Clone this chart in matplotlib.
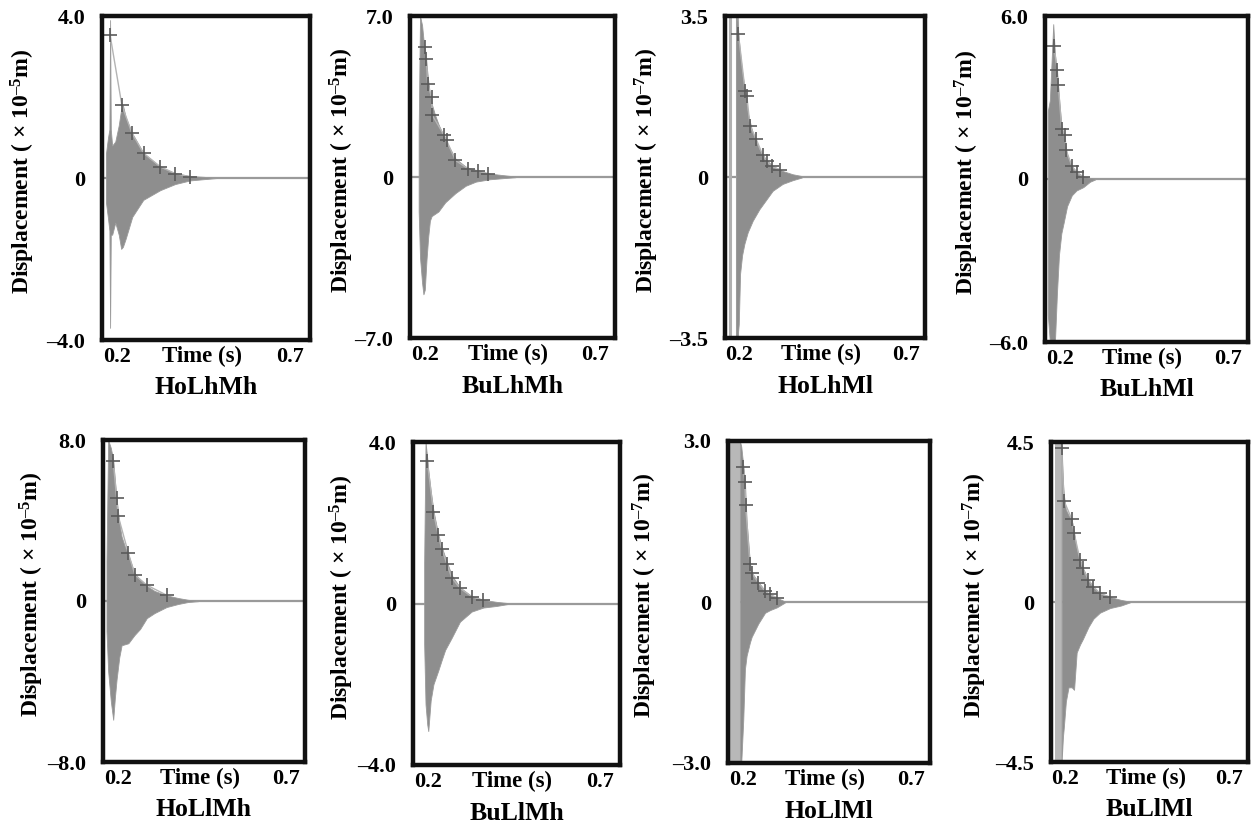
import matplotlib
matplotlib.use("Agg")
import matplotlib.pyplot as plt

plt.rcParams['font.family'] = ['Liberation Serif', 'DejaVu Serif']
plt.rcParams['font.weight'] = 'bold'
plt.rcParams['mathtext.fontset'] = 'custom'
plt.rcParams['mathtext.rm'] = 'Liberation Serif:bold'
plt.rcParams['mathtext.it'] = 'Liberation Serif:bold'
plt.rcParams['mathtext.bf'] = 'Liberation Serif:bold'

# ---------------- data ----------------
names = ["HoLhMh", "BuLhMh", "HoLhMl", "BuLhMl", "HoLlMh", "BuLlMh", "HoLlMl", "BuLlMl"]
ymax = [4.0, 7.0, 3.5, 6.0, 8.0, 4.0, 3.0, 4.5]
exponents = ["5", "5", "7", "7", "5", "5", "7", "7"]
x_ticks = [0.2, 0.7]
x_tick_labels = ["0.2", "0.7"]

# envelope of the oscillating response (time, upper, lower)
t1 = [0.168, 0.174, 0.178, 0.180, 0.182, 0.186, 0.195, 0.205, 0.212, 0.217, 0.225, 0.244, 0.276, 0.325, 0.368, 0.411, 0.450, 0.490]
up1 = [0.6, 1.0, 1.2, 3.9, 1.2, 0.8, 0.9, 1.3, 1.7, 1.8, 1.5, 1.1, 0.62, 0.27, 0.12, 0.05, 0.03, 0.0]
lo1 = [-0.6, -1.0, -1.3, -3.7, -1.4, -1.4, -1.1, -1.4, -1.75, -1.7, -1.5, -0.96, -0.54, -0.30, -0.15, -0.06, -0.03, 0.0]

t2 = [0.182, 0.186, 0.192, 0.196, 0.200, 0.205, 0.210, 0.215, 0.220, 0.230, 0.240, 0.260, 0.290, 0.320, 0.350, 0.390, 0.430, 0.466]
up2 = [2.0, 7.0, 6.6, 6.0, 5.5, 4.9, 4.2, 3.6, 3.2, 2.7, 2.3, 1.6, 0.8, 0.45, 0.28, 0.15, 0.08, 0.02]
lo2 = [-1.5, -3.5, -4.6, -5.1, -4.9, -3.6, -2.6, -1.9, -1.7, -1.6, -1.5, -1.1, -0.7, -0.38, -0.2, -0.1, -0.05, -0.01]

t3 = [0.190, 0.194, 0.198, 0.202, 0.208, 0.215, 0.225, 0.240, 0.260, 0.280, 0.300, 0.330, 0.360, 0.388]
up3 = [3.5, 3.4, 3.0, 2.7, 2.3, 1.95, 1.4, 0.95, 0.6, 0.38, 0.24, 0.13, 0.06, 0.02]
lo3 = [-3.5, -3.5, -3.2, -2.1, -1.7, -1.45, -1.2, -0.95, -0.7, -0.5, -0.3, -0.15, -0.07, -0.01]

t4 = [0.165, 0.171, 0.181, 0.186, 0.192, 0.198, 0.205, 0.212, 0.222, 0.236, 0.250, 0.270, 0.290, 0.305]
up4 = [2.5, 2.9, 5.7, 4.6, 3.9, 3.0, 2.0, 1.6, 0.9, 0.48, 0.26, 0.1, 0.04, 0.01]
lo4 = [-5.0, -6.0, -6.0, -6.0, -4.2, -2.8, -2.0, -1.6, -1.0, -0.6, -0.42, -0.3, -0.1, -0.02]

t5 = [0.167, 0.172, 0.180, 0.187, 0.192, 0.197, 0.205, 0.212, 0.222, 0.232, 0.250, 0.267, 0.287, 0.310, 0.346, 0.380, 0.410, 0.440]
up5 = [2.0, 8.0, 7.6, 7.0, 6.0, 5.1, 3.9, 3.2, 2.7, 2.3, 1.4, 1.05, 0.75, 0.5, 0.28, 0.15, 0.06, 0.01]
lo5 = [-1.5, -3.5, -5.0, -5.9, -4.8, -3.9, -2.8, -2.2, -2.15, -2.1, -1.7, -1.39, -0.85, -0.6, -0.3, -0.15, -0.05, -0.01]

t6 = [0.189, 0.193, 0.198, 0.201, 0.208, 0.216, 0.230, 0.240, 0.250, 0.269, 0.293, 0.327, 0.361, 0.400, 0.434]
up6 = [1.0, 4.0, 3.6, 3.3, 2.8, 2.3, 1.7, 1.4, 1.15, 0.7, 0.4, 0.18, 0.09, 0.04, 0.01]
lo6 = [-1.0, -2.5, -3.0, -3.16, -2.4, -2.0, -1.66, -1.4, -1.15, -0.85, -0.45, -0.2, -0.1, -0.06, -0.01]

t7 = [0.192, 0.196, 0.202, 0.207, 0.212, 0.222, 0.227, 0.247, 0.267, 0.282, 0.302, 0.326]
up7 = [3.0, 2.9, 2.55, 2.25, 1.5, 0.72, 0.55, 0.37, 0.21, 0.14, 0.08, 0.01]
lo7 = [-3.0, -3.0, -2.2, -1.25, -1.0, -0.75, -0.65, -0.4, -0.2, -0.15, -0.1, -0.01]

t8 = [0.189, 0.193, 0.196, 0.202, 0.210, 0.220, 0.227, 0.235, 0.245, 0.254, 0.271, 0.286, 0.306, 0.337, 0.370, 0.398]
up8 = [4.4, 3.4, 3.0, 2.6, 2.45, 2.3, 1.95, 1.5, 1.2, 0.95, 0.62, 0.43, 0.25, 0.14, 0.06, 0.01]
lo8 = [-4.5, -3.8, -3.5, -2.8, -2.4, -2.4, -2.47, -1.42, -1.2, -1.04, -0.7, -0.47, -0.3, -0.17, -0.1, -0.01]

# peak markers (+) on the decay curve
pk_t1 = [0.180, 0.214, 0.243, 0.277, 0.325, 0.368, 0.411]
pk_y1 = [3.53, 1.80, 1.11, 0.61, 0.28, 0.11, 0.03]
pk_t2 = [0.200, 0.205, 0.208, 0.220, 0.222, 0.257, 0.264, 0.290, 0.327, 0.357, 0.386]
pk_y2 = [5.65, 5.14, 4.06, 3.48, 2.68, 1.81, 1.59, 0.72, 0.36, 0.26, 0.14]
pk_t3 = [0.197, 0.217, 0.222, 0.232, 0.250, 0.270, 0.282, 0.297, 0.322]
pk_y3 = [3.10, 1.88, 1.77, 1.11, 0.83, 0.48, 0.34, 0.23, 0.16]
pk_t4 = [0.183, 0.193, 0.196, 0.206, 0.216, 0.219, 0.236, 0.251, 0.270]
pk_y4 = [4.90, 4.00, 3.46, 1.85, 1.61, 1.07, 0.48, 0.24, 0.06]
pk_t5 = [0.187, 0.197, 0.202, 0.232, 0.252, 0.287, 0.346]
pk_y5 = [6.98, 5.14, 4.22, 2.38, 1.29, 0.79, 0.29]
pk_t6 = [0.198, 0.216, 0.230, 0.240, 0.255, 0.269, 0.293, 0.327, 0.361]
pk_y6 = [3.54, 2.26, 1.70, 1.36, 0.98, 0.64, 0.38, 0.17, 0.08]
pk_t7 = [0.202, 0.207, 0.209, 0.222, 0.227, 0.247, 0.267, 0.282, 0.302]
pk_y7 = [2.52, 2.24, 1.81, 0.70, 0.54, 0.36, 0.20, 0.14, 0.08]
pk_t8 = [0.189, 0.196, 0.220, 0.227, 0.245, 0.254, 0.271, 0.286, 0.306, 0.337]
pk_y8 = [4.32, 2.85, 2.33, 1.95, 1.19, 0.95, 0.62, 0.43, 0.24, 0.14]

# full-height initial transients (thin spikes / bands), in time
spikes = [[], [], [0.172, 0.193], [], [], [], [], []]
bands = [None, None, None, None, None, None, (0.163, 0.192), (0.169, 0.190)]

env_t = [t1, t2, t3, t4, t5, t6, t7, t8]
env_up = [up1, up2, up3, up4, up5, up6, up7, up8]
env_lo = [lo1, lo2, lo3, lo4, lo5, lo6, lo7, lo8]
pk_t = [pk_t1, pk_t2, pk_t3, pk_t4, pk_t5, pk_t6, pk_t7, pk_t8]
pk_y = [pk_y1, pk_y2, pk_y3, pk_y4, pk_y5, pk_y6, pk_y7, pk_y8]

# ---------------- layout (pixels: left, top, right, bottom) ----------------
W, H = 1258, 827
rects = [(102, 16, 310, 340), (410, 16, 615, 338), (725, 16, 925, 338), (1045, 16, 1248, 342),
         (103, 440, 305, 762), (413, 442, 620, 765), (728, 441, 930, 763), (1051, 442, 1248, 762)]
ylab_off = [79, 68, 78, 78, 71, 71, 83, 76]

FS = 16
fig = plt.figure(figsize=(W / 100, H / 100), dpi=100)

for i in range(8):
    L, T, R, B = rects[i]
    ax = fig.add_axes([L / W, 1 - B / H, (R - L) / W, (B - T) / H])
    ax.set_xlim(0.1566, 0.758)
    ax.set_ylim(-ymax[i], ymax[i])
    ax.axhline(0, color='#9a9a9a', lw=1.6, zorder=1)
    if bands[i] is not None:
        ax.axvspan(bands[i][0], bands[i][1], color='#b8b8b8', lw=0, zorder=2)
    for s in spikes[i]:
        ax.axvline(s, color='#b0b0b0', lw=2.2, zorder=2)
    ax.fill_between(env_t[i], env_lo[i], env_up[i], color='#8e8e8e', lw=0.6, edgecolor='#9a9a9a', zorder=3)
    ax.plot(pk_t[i], pk_y[i], color='#b4b4b4', lw=1.0, zorder=4)
    ax.plot(pk_t[i], pk_y[i], ls='none', marker='+', ms=10, mew=1.2, color='#5a5a5a', zorder=5)

    for sp in ax.spines.values():
        sp.set_linewidth(3.2)
        sp.set_color('#111111')
        sp.set_zorder(6)

    yv = ymax[i]
    ax.set_yticks([yv, 0, -yv])
    ax.set_yticklabels([f"{yv:.1f}", "0", "\u2013" + f"{yv:.1f}"], fontsize=FS, fontweight='bold')
    ax.set_xticks(x_ticks)
    ax.set_xticklabels(x_tick_labels, fontsize=FS, fontweight='bold')
    ax.tick_params(axis='both', length=0)
    ax.tick_params(axis='y', pad=12)
    ax.tick_params(axis='x', pad=5)

    w_px = R - L
    h_px = B - T
    ax.text(0.48, -16 / h_px, "Time (s)", transform=ax.transAxes, ha='center', va='center',
            fontsize=FS + 0.5, fontweight='bold')
    ax.text(0.5, -48 / h_px, names[i], transform=ax.transAxes, ha='center', va='center',
            fontsize=FS + 2.5, fontweight='bold')
    ax.set_ylabel("Displacement ( \u00d7 10$^{\u2013" + exponents[i] + "}$m)", fontsize=FS + 1,
                  fontweight='bold', va='center')
    ax.yaxis.set_label_coords(-ylab_off[i] / w_px, 0.52)

fig.savefig("out.png", dpi=100, facecolor='white')
